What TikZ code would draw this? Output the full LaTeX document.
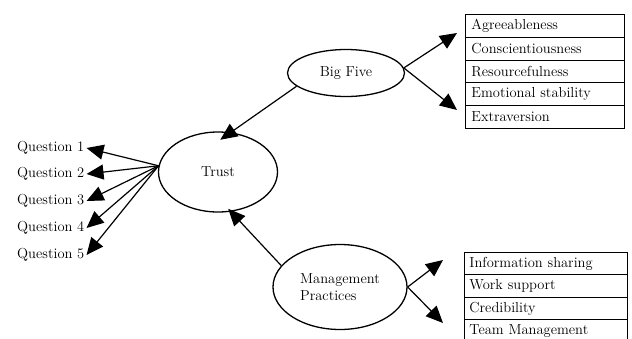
\documentclass[tikz,border=0pt]{standalone}
\usetikzlibrary{arrows.meta,shapes.geometric}
\begin{document}
\begin{tikzpicture}[x=1pt,y=-1pt,
  font=\fontsize{14.5}{16.5}\selectfont,
  latent/.style={draw,ellipse,line width=1.3pt,inner sep=0pt},
  trait/.style={draw,line width=0.9pt,anchor=north west,align=left,
    minimum height=#1,inner ysep=0pt},
  path/.style={line width=1.2pt,-{Triangle[length=17pt,width=15pt]}}]
  \clip (0,0) rectangle (632,338);
  % constructs
  \node[latent,minimum width=119pt,minimum height=80pt] (trust) at (218,172) {Trust};
  \node[latent,minimum width=117pt,minimum height=47pt] (big) at (346,73) {Big Five};
  \node[latent,minimum width=134pt,minimum height=85pt,align=left] (mgmt) at (340,287)
    {Management\\Practices};
  % indicators
  \foreach \i/\y in {1/148,2/174,3/201,4/228,5/255}
    \node[anchor=west,inner xsep=2pt] (q\i) at (15,\y) {Question \i};
  % trait boxes
  \foreach \t [count=\i] in {Agreeableness,Conscientiousness,Resourcefulness,
      Emotional stability,Extraversion}
    \node[trait=22.8pt,text width=147pt,inner xsep=6pt] (bf\i) at (465,{14+(\i-1)*22.8}) {\t};
  \foreach \t [count=\i] in {Information sharing,Work support,Credibility,Team Management}
    \node[trait=22.4pt,text width=153pt,inner xsep=5pt] (mp\i) at (464,{252+(\i-1)*22.4}) {\t};
  \coordinate (bfup) at (457,33);
  \coordinate (bfdown) at (457,110);
  \coordinate (mpup) at (443,260);
  \coordinate (mpdown) at (443,323);
  % arrows
  \foreach \i in {1,...,5}
    \draw[path] (trust.174) -- (q\i.east);
  \draw[path,shorten >=-13pt] (big.195) -- (trust.72);
  \draw[path,shorten >=-4pt] (mgmt.160) -- (trust.-72);
  \draw[path] (big.5) -- (bfup);
  \draw[path] (big.5) -- (bfdown);
  \draw[path] (mgmt.east) -- (mpup);
  \draw[path] (mgmt.east) -- (mpdown);
\end{tikzpicture}
\end{document}
